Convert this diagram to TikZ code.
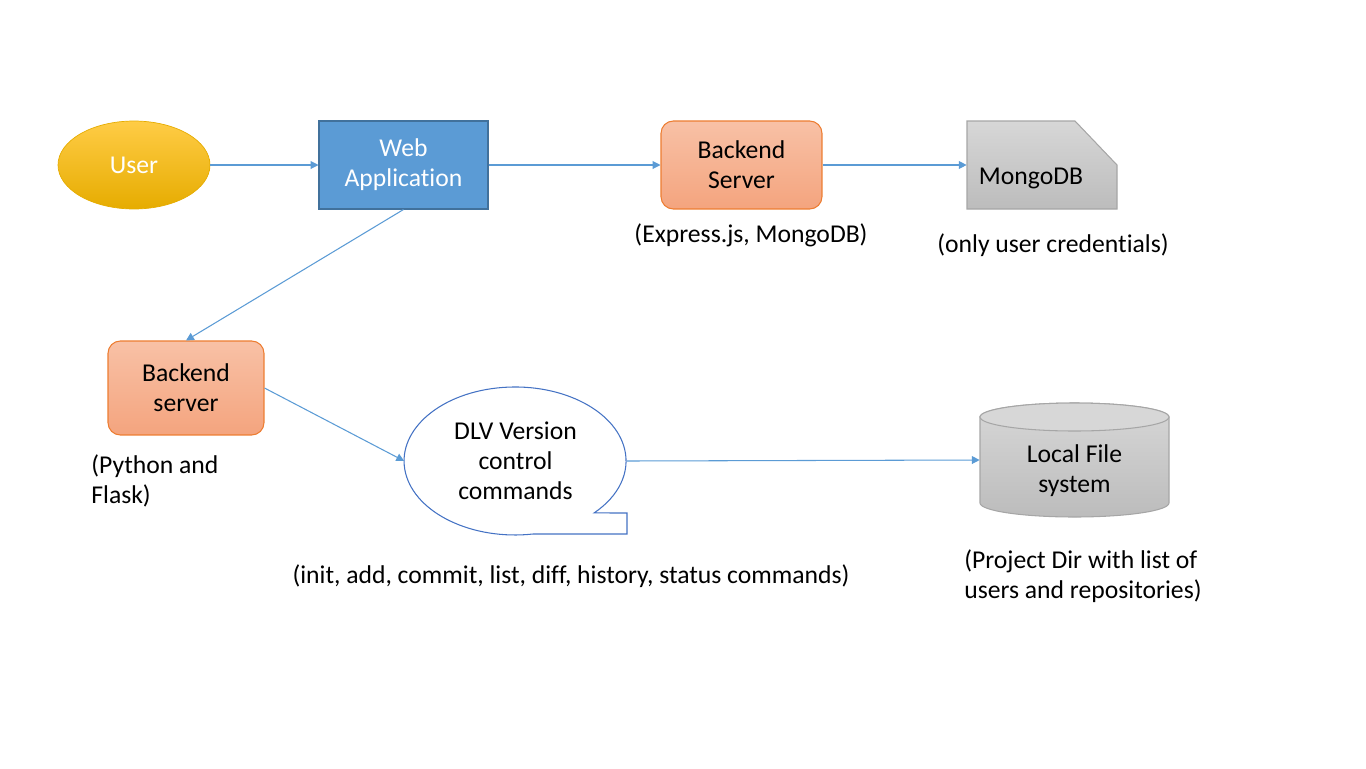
\documentclass[tikz,border=0pt]{standalone}
\usepackage{fontspec}
\setmainfont{Carlito}[Ligatures={NoCommon}]
\usetikzlibrary{arrows.meta,shapes.geometric}
\definecolor{azulflecha}{RGB}{91,155,213}
\definecolor{azulweb}{RGB}{91,155,213}
\definecolor{azulborde}{RGB}{65,113,156}
\definecolor{azulglobo}{RGB}{68,114,196}
\definecolor{oroarriba}{RGB}{255,204,70}
\definecolor{oromedio}{RGB}{255,192,0}
\definecolor{oroabajo}{RGB}{230,172,0}
\definecolor{salmonarriba}{RGB}{248,193,166}
\definecolor{salmonabajo}{RGB}{244,164,126}
\definecolor{naranjito}{RGB}{237,125,49}
\definecolor{grisarriba}{RGB}{215,215,215}
\definecolor{grisabajo}{RGB}{188,188,188}
\definecolor{grisborde}{RGB}{166,166,166}
\tikzset{>={Triangle[length=4.5pt,width=4.5pt]}}
\tikzset{
  flecha/.style={->, azulflecha, line width=0.6pt},
  userbox/.style={ellipse, draw=oroabajo, line width=0.4pt, top color=oroarriba, middle color=oromedio, bottom color=oroabajo, text=white, minimum width=3.04cm, minimum height=1.76cm},
  webbox/.style={rectangle, draw=azulborde, line width=0.6pt, fill=azulweb, text=white, align=center, minimum width=3.38cm, minimum height=1.76cm},
  serverbox/.style={rectangle, rounded corners=7pt, draw=naranjito, line width=0.6pt, top color=salmonarriba, bottom color=salmonabajo, align=center},
  hueco/.style={inner sep=0pt},
  nota/.style={inner sep=0pt, align=left}
}

\begin{document}
\begin{tikzpicture}[x=0.02cm, y=-0.02cm, font=\fontsize{14.6}{17.1}\selectfont]
	\useasboundingbox (0,0) rectangle (1366,768);

	% top row
	\node[userbox] (user) at (134,165) {User};
	\node[webbox] (web) at (403.5,165) {Web\\Application};
	\node[serverbox, minimum width=3.22cm, minimum height=1.76cm] (bsexpress) at (741.5,165) {Backend\\Server};
	\node[hueco, minimum width=3cm, minimum height=1.76cm] (mongo) at (1042,165) {};
	\draw[draw=grisborde, line width=0.6pt, top color=grisarriba, bottom color=grisabajo]
		(967,121) -- (1075,121) -- (1117,165) -- (1117,209) -- (967,209) -- cycle;
	\node (mongotxt) at (1031,178) {MongoDB};

	\node (expr) at (751,235) {(Express.js, MongoDB)};
	\node (cred) at (1053,245) {(only user credentials)};

	% bottom row
	\node[serverbox, minimum width=3.12cm, minimum height=1.88cm] (bsflask) at (186,388) {Backend\\server};
	\node[nota, anchor=west] (pyfl) at (91,481) {(Python and\\Flask)};

	\draw[draw=azulglobo, line width=0.6pt, fill=white]
		(627,513) -- (627,534) -- (533,534)
		arc[start angle=80.7, end angle=404.6, x radius=111, y radius=74] -- cycle;
	\node[ellipse, align=center, minimum width=4.44cm, minimum height=2.96cm] (dlv) at (515.5,461) {DLV Version\\control\\commands};
	\node (cmds) at (571,576) {(init, add, commit, list, diff, history, status commands)};

	\draw[draw=grisborde, line width=0.6pt, top color=grisarriba, bottom color=grisabajo]
		(980,417) -- (980,503) arc[start angle=180, end angle=0, x radius=94.5, y radius=14]
		-- (1169,417) arc[start angle=0, end angle=-180, x radius=94.5, y radius=14] -- cycle;
	\draw[draw=grisborde, line width=0.6pt, fill=grisarriba] (1074.5,417) ellipse[x radius=94.5, y radius=14];
	\node[hueco, align=center, minimum width=3.78cm, minimum height=2.28cm] (lfs) at (1074.5,460) {};
	\node[align=center] (lfstxt) at (1074.5,471) {Local File\\system};
	\node[nota, anchor=west] (proj) at (964,576) {(Project Dir with list of\\users and repositories)};

	\draw[flecha] (user) -- (web);
	\draw[flecha] (web) -- (bsexpress);
	\draw[flecha] (bsexpress) -- (mongo);
	\draw[flecha] (web.south) -- (bsflask.north);
	\draw[flecha] (bsflask.east) -- (dlv.west);
	\draw[flecha] (dlv.east) -- (lfs.west);

\end{tikzpicture}
\end{document}
